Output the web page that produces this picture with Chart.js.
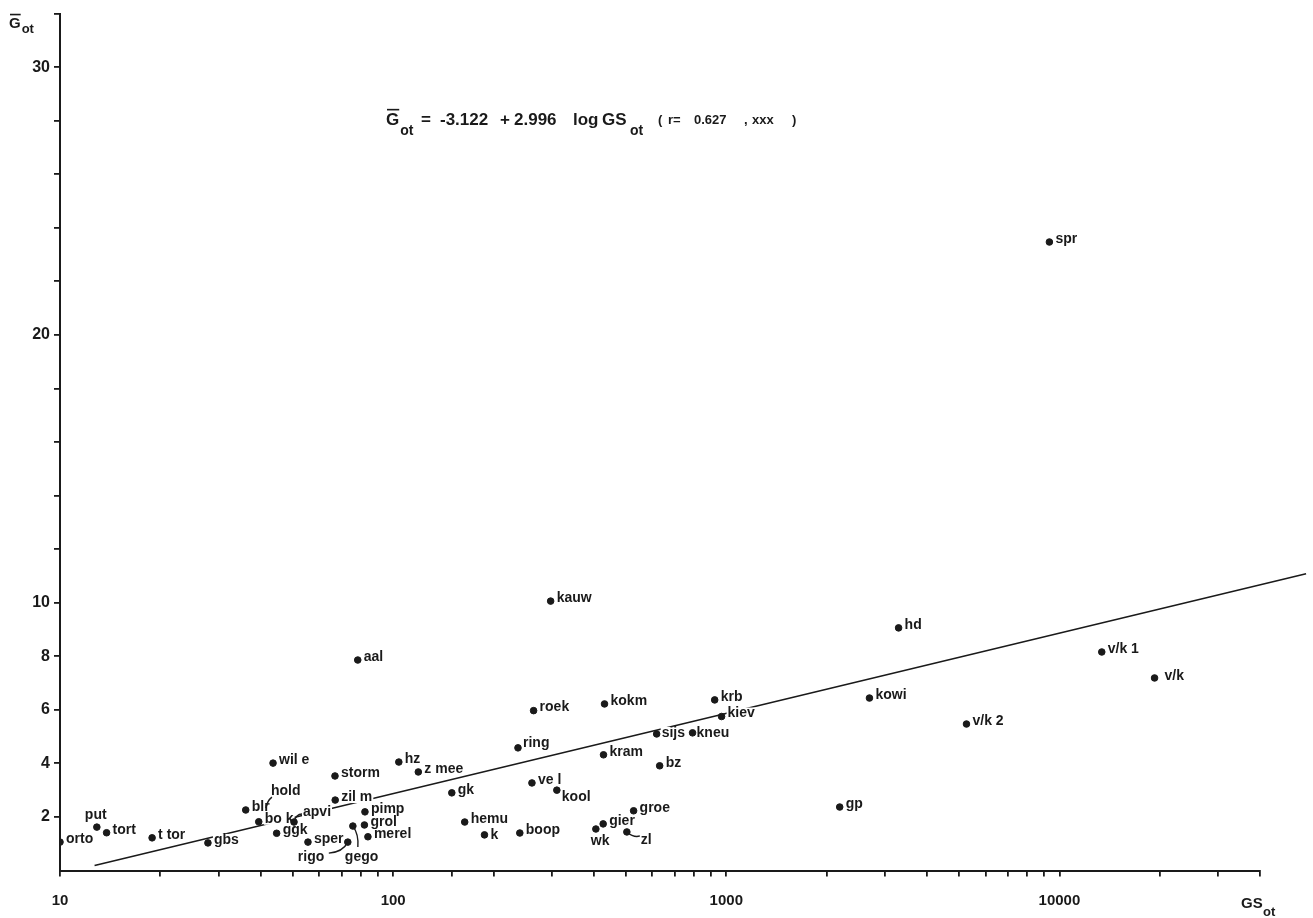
<!DOCTYPE html>
<html>
<head>
<meta charset="utf-8">
<script src="https://cdn.jsdelivr.net/npm/chart.js@4.4.1/dist/chart.umd.min.js"></script>
<style>
  html, body { margin: 0; padding: 0; background: #fff; }
  #wrap { width: 1313px; height: 918px; }
</style>
</head>
<body>
<div id="wrap"><canvas id="chart" width="1313" height="918"></canvas></div>
<script>
// Species codes, their GS_ot (x, log scale) and mean G_ot (y)
const species = ['orto','put','tort','t tor','gbs','blr','hold','bo k','apvi','ggk',
  'wil e','storm','zil m','sper','rigo','gego','pimp','grol','merel','aal',
  'hz','z mee','gk','hemu','k','boop','ring','ve l','kool','roek',
  'kauw','kokm','kram','sijs','kneu','bz','groe','gier','wk','zl',
  'krb','kiev','kowi','hd','gp','v/k 2','v/k 1','v/k','spr'];
const gsOt = [10, 12.9, 13.8, 18.9, 27.8, 36.1, 41.5, 39.5, 50.4, 44.7,
  43.6, 66.9, 67, 55.5, 73.1, 75.7, 82.3, 82, 84, 78.3,
  104, 119, 150, 164, 188, 240, 237, 261, 310, 264,
  297, 431, 428, 618, 792, 631, 527, 427, 406, 503,
  923, 968, 2690, 3290, 2190, 5260, 13400, 19300, 9330];
const gMean = [1.06, 1.62, 1.41, 1.22, 1.03, 2.26, 2.33, 1.82, 1.81, 1.39,
  4.01, 3.53, 2.63, 1.06, 1.06, 1.66, 2.19, 1.70, 1.26, 7.86,
  4.05, 3.68, 2.90, 1.81, 1.33, 1.40, 4.58, 3.27, 3.00, 5.97,
  10.06, 6.22, 4.32, 5.10, 5.14, 3.91, 2.23, 1.74, 1.55, 1.44,
  6.37, 5.75, 6.44, 9.06, 2.37, 5.47, 8.16, 7.19, 23.47];

// Regression: G_ot = -3.122 + 2.996 log GS_ot
const regIntercept = -3.122;
const regSlope = 2.996;
const regSpan = [12.7, 55000];

// Axis ticks
const xTickValues = [10,20,30,40,50,60,70,80,90,100,150,200,300,400,500,600,700,800,900,
  1000,2000,3000,4000,5000,6000,7000,8000,9000,10000,20000,30000,40000];
const xTickLabels = {10: '10', 100: '100', 1000: '1000', 10000: '10000'};
const yLabelled = [2, 4, 6, 8, 10, 20, 30];

const FONT = '"Liberation Sans", Arial, Helvetica, sans-serif';
const INK = '#1a1a1a';

// Label placement relative to the dot (default: right of the dot).
// "hold" is marked by its leader line only, its dot sits under the "blr" name.
const labelPlace = {
  'put':  { dx: -12, dy: -12 },
  'hold': { dx: 5, dy: -17, lead: [6, -11], ctrl: [1, -7], noDot: true },
  'apvi': { dx: 9, dy: -10, lead: [8, -8], ctrl: [2, -8] },
  'rigo': { dx: -50, dy: 15, lead: [-19, 11], ctrl: [-5, 10] },
  'gego': { dx: -8, dy: 31, lead: [5, 21], ctrl: [6, 8] },
  'wk':   { dx: -5, dy: 12 },
  'zl':   { dx: 14, dy: 8, lead: [13, 4], ctrl: [7, 6] },
  'kool': { dx: 5, dy: 7 },
  'ring': { dx: 5, dy: -5 },
  'v/k':  { dx: 10, dy: -2 },
  'sijs': { dx: 5, dy: -1 },
  'kneu': { dx: 4, dy: 0 },
  'k':    { dx: 6, dy: 0 }
};

const regressionLine = regSpan.map(x => ({ x, y: regIntercept + regSlope * Math.log10(x) }));
const points = gsOt.map((x, i) => ({ x, y: gMean[i] }));

// Names next to the dots; drawn right after the regression line so
// their white backing interrupts the line, and before the dots.
const pointLabels = {
  id: 'pointLabels',
  afterDatasetDraw(chart, args) {
    if (args.index !== 0) return;
    const ctx = chart.ctx;
    const meta = chart.getDatasetMeta(1);
    ctx.save();
    ctx.font = `bold 14px ${FONT}`;
    ctx.textAlign = 'left';
    ctx.textBaseline = 'middle';
    const items = meta.data.map((el, i) => {
      const p = labelPlace[species[i]] || {};
      const dx = p.dx !== undefined ? p.dx : 6;
      const dy = p.dy !== undefined ? p.dy : -3;
      return { name: species[i], px: el.x, py: el.y, x: el.x + dx, y: el.y + dy, p };
    });
    ctx.fillStyle = '#fff';
    items.forEach(it => {
      const w = ctx.measureText(it.name).width;
      ctx.fillRect(it.x - 1, it.y - 6, w + 2, 12);
    });
    ctx.fillStyle = INK;
    ctx.strokeStyle = INK;
    ctx.lineWidth = 1.4;
    items.forEach(it => {
      ctx.fillText(it.name, it.x, it.y);
      if (it.p.lead) {
        ctx.beginPath();
        ctx.moveTo(it.px, it.py);
        ctx.quadraticCurveTo(it.px + it.p.ctrl[0], it.py + it.p.ctrl[1],
                             it.px + it.p.lead[0], it.py + it.p.lead[1]);
        ctx.stroke();
      }
    });
    ctx.restore();
  }
};

// "G-bar" with subscript "ot"
function drawGbar(ctx, x, base, size, subSize, subDrop) {
  ctx.font = `bold ${size}px ${FONT}`;
  ctx.fillText('G', x, base);
  const w = ctx.measureText('G').width;
  ctx.fillRect(x + 1, base - size * 0.95, w - 1, 1.6);
  ctx.font = `bold ${subSize}px ${FONT}`;
  ctx.fillText('ot', x + w + 1, base + subDrop);
}

const annotations = {
  id: 'annotations',
  afterDraw(chart) {
    const ctx = chart.ctx;
    ctx.save();
    ctx.fillStyle = INK;
    ctx.textBaseline = 'alphabetic';
    ctx.textAlign = 'left';

    // y-axis title
    drawGbar(ctx, 9, 28, 15, 13, 5);

    // x-axis title
    ctx.font = `bold 15px ${FONT}`;
    ctx.fillText('GS', 1241, 908);
    ctx.font = `bold 13px ${FONT}`;
    ctx.fillText('ot', 1263, 916);

    // regression equation
    drawGbar(ctx, 386, 125, 17, 14, 10);
    ctx.font = `bold 17px ${FONT}`;
    ctx.fillText('=', 421, 125);
    ctx.fillText('-3.122', 440, 125);
    ctx.fillText('+', 500, 125);
    ctx.fillText('2.996', 514, 125);
    ctx.fillText('log', 573, 125);
    ctx.fillText('GS', 602, 125);
    ctx.font = `bold 14px ${FONT}`;
    ctx.fillText('ot', 630, 135);
    ctx.font = `bold 13px ${FONT}`;
    ctx.fillText('(', 658, 124);
    ctx.fillText('r=', 668, 124);
    ctx.fillText('0.627', 694, 124);
    ctx.fillText(',', 744, 124);
    ctx.fillText('xxx', 752, 124);
    ctx.fillText(')', 792, 124);
    ctx.restore();
  }
};

const axisTickFont = size => ({ family: FONT, size, weight: 'bold' });

new Chart(document.getElementById('chart'), {
  type: 'scatter',
  data: {
    datasets: [
      {
        type: 'line',
        data: regressionLine,
        borderColor: INK,
        borderWidth: 1.5,
        pointRadius: 0,
        fill: false,
        clip: false,
        order: 2
      },
      {
        data: points,
        backgroundColor: INK,
        borderColor: INK,
        pointRadius: ctx => ((labelPlace[species[ctx.dataIndex]] || {}).noDot ? 0 : 3.3),
        pointHoverRadius: 3.3,
        order: 1
      }
    ]
  },
  options: {
    responsive: false,
    animation: false,
    devicePixelRatio: 1,
    events: [],
    layout: { padding: { top: 13.5, right: 53, left: 0, bottom: 0 } },
    plugins: { legend: { display: false }, tooltip: { enabled: false } },
    scales: {
      x: {
        type: 'logarithmic',
        min: 10,
        max: 40000,
        border: { display: true, color: INK, width: 2 },
        grid: { drawOnChartArea: false, drawTicks: true, tickLength: 6, color: INK, lineWidth: 1.8 },
        ticks: {
          autoSkip: false,
          maxRotation: 0,
          padding: 15,
          color: INK,
          font: axisTickFont(15),
          callback: v => xTickLabels[v] || ''
        },
        afterBuildTicks: scale => { scale.ticks = xTickValues.map(v => ({ value: v })); },
        afterFit: scale => { scale.height = 47.5; }
      },
      y: {
        type: 'linear',
        min: 0,
        max: 32,
        border: { display: true, color: INK, width: 2 },
        grid: {
          drawOnChartArea: false, drawTicks: true, tickLength: 6, lineWidth: 1.8,
          color: ctx => (ctx.tick && ctx.tick.value === 0 ? 'rgba(0,0,0,0)' : INK)
        },
        ticks: {
          stepSize: 2,
          autoSkip: false,
          padding: 4,
          color: INK,
          font: axisTickFont(16),
          callback: v => (yLabelled.includes(v) ? String(v) : '')
        },
        afterFit: scale => { scale.width = 60; }
      }
    }
  },
  plugins: [pointLabels, annotations]
});
</script>
</body>
</html>
